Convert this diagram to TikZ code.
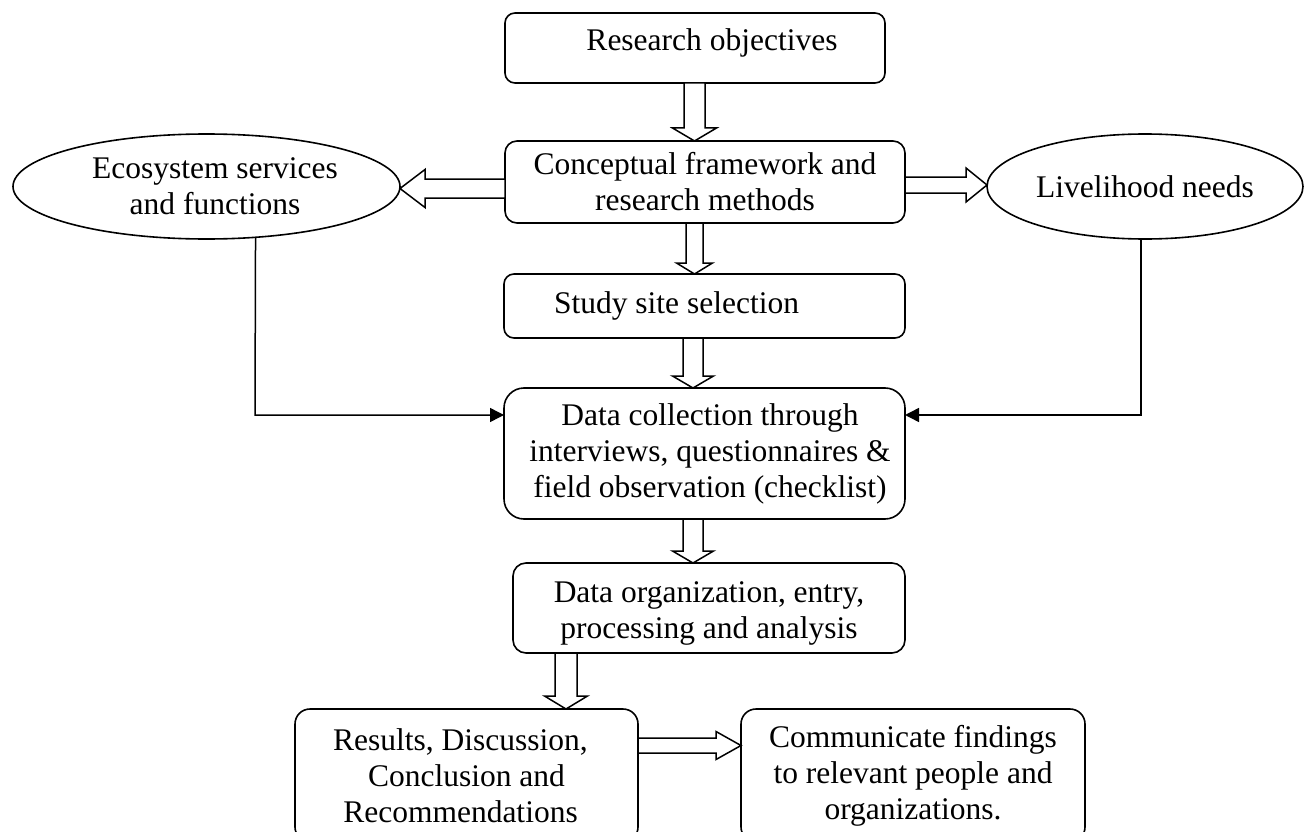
\documentclass[tikz,border=0pt]{standalone}
\usepackage{fontspec}
\setmainfont{Liberation Serif}
\usetikzlibrary{shapes.geometric,arrows.meta,calc}
\tikzset{
  box/.style={draw, line width=1.6pt, rounded corners=#1, inner sep=0pt, outer sep=0pt,
    align=center, font=\fontsize{31.5}{36}\selectfont},
  box/.default=11pt,
  oval/.style={draw, ellipse, line width=1.6pt, inner sep=0pt, outer sep=0pt,
    align=center, font=\fontsize{31.5}{36}\selectfont},
  hollow/.style={draw, line width=1.5pt, fill=white, line join=miter},
  conn/.style={line width=1.5pt, -{Triangle[length=14pt,width=14pt]}}
}
% vertical hollow block arrow: from node #1 (south) to node #2 (north) at x=#3,
% half shaft #4, half head #5, head length #6
\newcommand\vblock[6]{\draw[hollow] let \p1=(#1.south), \p2=(#2.north) in
  ({#3pt-#4pt},\y1) -- ({#3pt-#4pt},{\y2+#6pt}) -- ({#3pt-#5pt},{\y2+#6pt}) -- (#3pt,\y2)
  -- ({#3pt+#5pt},{\y2+#6pt}) -- ({#3pt+#4pt},{\y2+#6pt}) -- ({#3pt+#4pt},\y1) -- cycle;}
% horizontal hollow block arrow: from anchor #1 to anchor #2 at y=#3,
% half shaft #4, half head #5, head length #6, direction #7 (1 right, -1 left)
\newcommand\hblock[7]{\draw[hollow] let \p1=(#1), \p2=(#2) in
  (\x1,{-#3pt+#4pt}) -- ({\x2-(#7)*#6pt},{-#3pt+#4pt}) -- ({\x2-(#7)*#6pt},{-#3pt+#5pt})
  -- (\x2,-#3pt) -- ({\x2-(#7)*#6pt},{-#3pt-#5pt}) -- ({\x2-(#7)*#6pt},{-#3pt-#4pt})
  -- (\x1,{-#3pt-#4pt}) -- cycle;}
\begin{document}
\begin{tikzpicture}[x=1pt,y=-1pt]
\path[use as bounding box] (0,0) rectangle (1304,832);
\fill[white] (0,0) rectangle (1304,832);
\clip (0,0) rectangle (1304,832);

\node[box=10pt, minimum width=380pt, minimum height=70pt, text height=21.5pt, text depth=17pt] (ro) at (695,48)
  {\hspace*{34pt}Research objectives};
\node[box=12pt, minimum width=400pt, minimum height=82pt] (cf) at (705,182)
  {Conceptual framework and\\research methods};
\node[box=10pt, minimum width=401pt, minimum height=64pt] (ss) at (704.5,306)
  {Study site selection\hspace*{56pt}};
\node[box=20pt, minimum width=401pt, minimum height=131pt] (dc) at (704.5,453.5)
  {\hspace*{11pt}Data collection through\\\hspace*{11pt}interviews, questionnaires \&\\\hspace*{11pt}field observation (checklist)};
\node[box=13pt, minimum width=392pt, minimum height=90pt, text height=62pt, text depth=2pt] (do) at (709,608)
  {Data organization, entry,\\processing and analysis};
\node[box=15pt, minimum width=343pt, minimum height=133pt] (rs) at (466.5,775.5)
  {Results, Discussion,\hspace*{12pt}\\Conclusion and\hspace*{12pt}\\Recommendations\hspace*{12pt}};
\node[box=15pt, minimum width=344pt, minimum height=133pt] (cm) at (913,775.5)
  {Communicate findings\\to relevant people and\\organizations.};
\node[oval, minimum width=387pt, minimum height=105pt] (eco) at (206.5,186.5)
  {\hspace*{17pt}Ecosystem services\\\hspace*{17pt}and functions};
\node[oval, minimum width=316pt, minimum height=105pt] (liv) at (1145,186.5)
  {Livelihood needs};

\vblock{ro}{cf}{694.5}{10.5}{22}{13}
\vblock{cf}{ss}{694.5}{8.5}{18}{11}
\vblock{ss}{dc}{693}{10}{20.5}{12}
\vblock{dc}{do}{693}{10}{20.5}{12}
\vblock{do}{rs}{566}{11}{21.5}{13}
\hblock{cf.west}{eco.east}{188.5}{9.5}{19}{25}{-1}
\hblock{cf.east}{liv.west}{185}{8}{17}{21}{1}
\hblock{rs.east}{cm.west}{745.5}{7.5}{14}{25}{1}

\coordinate (lb) at (255,415);
\coordinate (rb) at (1141,415);
\draw[conn] (eco.-46) -- (lb) -- (lb -| dc.west);
\draw[conn] (liv.south -| rb) -- (rb) -- (rb -| dc.east);
\end{tikzpicture}
\end{document}
